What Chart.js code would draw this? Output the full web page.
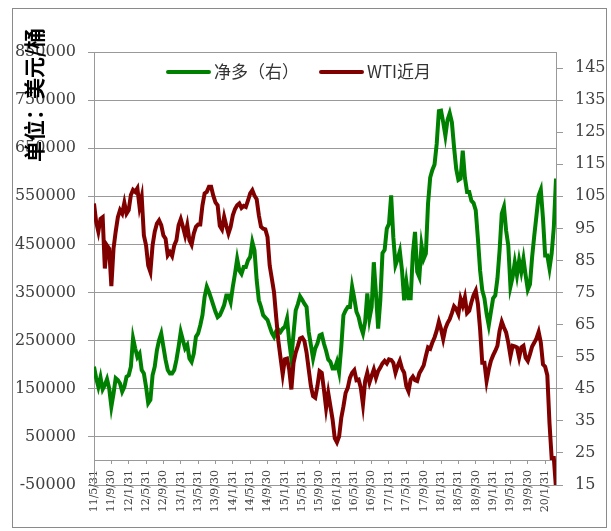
<!DOCTYPE html>
<html>
<head>
<meta charset="utf-8">
<title>净多 vs WTI近月</title>
<script src="https://cdn.jsdelivr.net/npm/chart.js@4.4.1/dist/chart.umd.min.js"></script>
<style>
    html, body { margin: 0; padding: 0; background: #fff; }
    canvas { display: block; }
</style>
</head>
<body>
<canvas id="oilChart" width="611" height="531"></canvas>
<script>
// Half-month steps, starting 2011-05-31
const STEP_MONTHS = 0.5;

// x-axis labels, one every 4 months
const dateLabels = [
    '11/5/31', '11/9/30',
    '12/1/31', '12/5/31', '12/9/30',
    '13/1/31', '13/5/31', '13/9/30',
    '14/1/31', '14/5/31', '14/9/30',
    '15/1/31', '15/5/31', '15/9/30',
    '16/1/31', '16/5/31', '16/9/30',
    '17/1/31', '17/5/31', '17/9/30',
    '18/1/31', '18/5/31', '18/9/30',
    '19/1/31', '19/5/31', '19/9/30',
    '20/1/31'
];

// Net long position (left axis)
const netLong = [
    196000, 172000, 154000, 174000, 149000, 158000, 170000, 151000, 113000, 140000,
    172000, 168000, 161000, 144000, 154000, 175000, 178000, 196000, 255000, 234000,
    216000, 223000, 189000, 182000, 154000, 120000, 127000, 178000, 196000, 230000,
    251000, 265000, 237000, 210000, 189000, 182000,
    182000, 189000, 210000, 237000, 268000, 251000, 234000, 241000, 213000, 206000,
    223000, 258000, 265000, 282000, 303000, 341000, 362000, 351000, 338000, 324000,
    310000, 299000, 303000, 313000, 324000, 344000, 344000, 330000, 362000, 389000,
    420000, 396000, 389000, 403000, 403000, 417000,
    424000, 455000, 438000, 376000, 334000, 320000, 303000, 298000, 293000, 279000,
    266000, 258000, 270000, 273000, 268000, 275000, 279000, 296000, 248000, 213000,
    265000, 313000, 326000, 342000, 335000, 327000, 320000, 268000, 241000, 213000,
    234000, 244000, 261000, 263000, 244000, 229000,
    211000, 206000, 192000, 192000, 206000, 185000, 237000, 303000, 313000, 320000,
    320000, 362000, 338000, 310000, 299000, 279000, 265000, 289000, 348000, 296000,
    320000, 413000, 348000, 275000, 334000, 432000, 439000, 483000, 493000, 552000,
    465000, 407000, 420000, 436000, 396000, 334000,
    372000, 338000, 338000, 431000, 476000, 393000, 382000, 448000, 420000, 431000,
    535000, 589000, 605000, 616000, 659000, 727000, 728000, 704000, 676000, 709000,
    723000, 704000, 652000, 607000, 584000, 587000, 645000, 589000, 559000, 559000,
    541000, 536000, 521000, 462000, 396000, 355000,
    338000, 306000, 282000, 310000, 338000, 344000, 379000, 438000, 514000, 528000,
    479000, 448000, 362000, 382000, 413000, 386000, 417000, 393000, 420000, 386000,
    356000, 367000, 424000, 469000, 510000, 552000, 564000, 504000, 427000, 427000,
    400000, 431000, 486000, 587000
];

// WTI front-month price (right axis)
const wtiFront = [
    102.8, 97, 94, 98, 98.5, 82.5, 89.7, 88.7, 77, 88.7,
    94, 98.5, 100.7, 99.6, 103, 99.6, 100.7, 105.4, 107, 106.4,
    107.5, 101.7, 104.8, 92.8, 89.7, 83.4, 81.4, 89.7, 94, 96.5,
    97.5, 96, 92.8, 91.8, 86.6, 87.6,
    86.4, 89.7, 91.3, 96, 97.9, 95.5, 92.8, 96, 91.3, 89.9,
    93.4, 95.5, 96.2, 96.2, 102.2, 105.9, 106.4, 108, 108, 105.2,
    103.1, 102.2, 95.8, 94.7, 98.6, 95.8, 93.4, 95.5, 99.1, 101,
    102.2, 102.8, 101.4, 102, 101.7, 103.7,
    105.9, 106.9, 105.2, 104.1, 99.1, 95.5, 94.9, 94.7, 92.3, 83.4,
    79.3, 75.1, 67.3, 59.9, 54.7, 49.5, 54.2, 54.4, 51, 44.8,
    53.1, 56.3, 58.4, 60.7, 61, 59.9, 56.3, 51, 45.8, 42.7,
    42.2, 45.8, 50.5, 50, 44.8, 39,
    43.7, 39.5, 35.4, 29.6, 28.3, 30.1, 35.9, 39.5, 43.7, 45.3,
    48.4, 50, 50.8, 47.7, 47.9, 45.3, 40.1, 47.4, 50, 46.9,
    49, 51, 48.4, 50.5, 51.6, 52.9, 53.7, 52.9, 54.2, 54,
    53.1, 50, 52.1, 53.7, 51.3, 50,
    45.8, 44.2, 47.9, 48.8, 47.7, 47.4, 49.8, 51, 52.3, 55.2,
    57.9, 57.5, 59.4, 61, 63.1, 65.9, 63.6, 60.5, 63.8, 65.5,
    66.7, 68.6, 70.7, 69.9, 68.3, 73, 70.9, 73.5, 68.6, 69.3,
    72, 74.2, 75.6, 71.4, 63.6, 53.1,
    53.1, 47.4, 51, 53.7, 55.4, 56.8, 58.4, 63.1, 65.9, 64.1,
    62.6, 59.4, 55.2, 58.4, 58.2, 57.9, 54.7, 57.9, 58.4, 54.7,
    53.7, 55.8, 58.2, 59.4, 60.7, 62.7, 59.4, 52.6, 51.9, 49.2,
    34.3, 23.4, 23.4, 14
];

const leftTicks = [-50000, 50000, 150000, 250000, 350000, 450000, 550000, 650000, 750000, 850000];
const rightTicks = [15, 25, 35, 45, 55, 65, 75, 85, 95, 105, 115, 125, 135, 145];

const GREEN = '#008000';
const MAROON = '#800000';
const GRID = '#999999';
const TICK_TEXT = '#404040';

function toPoints(values) {
    return values.map((v, i) => ({ x: i * STEP_MONTHS, y: v }));
}

// White background and thin outer frame
const framePlugin = {
    id: 'frame',
    beforeDraw(chart) {
        const ctx = chart.ctx;
        ctx.save();
        ctx.fillStyle = '#ffffff';
        ctx.fillRect(0, 0, chart.width, chart.height);
        ctx.strokeStyle = '#8a8a8a';
        ctx.lineWidth = 1;
        ctx.strokeRect(12.5, 8.5, 594, 519);
        ctx.restore();
    }
};

// Legend row and the left axis unit title
const overlayPlugin = {
    id: 'overlay',
    afterDraw(chart) {
        const ctx = chart.ctx;
        ctx.save();

        ctx.lineWidth = 4;
        ctx.lineCap = 'round';
        ctx.font = '17px "Noto Sans CJK SC", sans-serif';
        ctx.textBaseline = 'middle';
        ctx.fillStyle = '#333';

        ctx.strokeStyle = GREEN;
        ctx.beginPath();
        ctx.moveTo(168, 72);
        ctx.lineTo(209, 72);
        ctx.stroke();
        ctx.fillText('净多（右）', 214, 72);

        ctx.strokeStyle = MAROON;
        ctx.beginPath();
        ctx.moveTo(321, 72);
        ctx.lineTo(362, 72);
        ctx.stroke();
        ctx.fillText('WTI近月', 367, 72);

        ctx.translate(34, 95);
        ctx.rotate(-Math.PI / 2);
        ctx.textAlign = 'center';
        ctx.fillStyle = '#000';
        ctx.font = 'bold 21px "Noto Sans CJK SC", sans-serif';
        ctx.fillText('单位：美元/桶', 0, 0);

        ctx.restore();
    }
};

const ctx = document.getElementById('oilChart').getContext('2d');

new Chart(ctx, {
    type: 'line',
    data: {
        datasets: [
            {
                label: '净多（右）',
                data: toPoints(netLong),
                yAxisID: 'y',
                borderColor: GREEN,
                borderWidth: 4,
                pointRadius: 0,
                tension: 0,
                order: 1
            },
            {
                label: 'WTI近月',
                data: toPoints(wtiFront),
                yAxisID: 'y1',
                borderColor: MAROON,
                borderWidth: 4,
                pointRadius: 0,
                tension: 0,
                order: 0
            }
        ]
    },
    options: {
        responsive: false,
        animation: false,
        layout: {
            padding: { top: 52, left: 0, right: 0, bottom: 46 }
        },
        plugins: {
            legend: { display: false },
            tooltip: { enabled: false }
        },
        scales: {
            x: {
                type: 'linear',
                position: { y: 0 },
                min: 0,
                max: 106.5,
                afterBuildTicks(axis) {
                    axis.ticks = dateLabels.map((_, i) => ({ value: i * 4 }));
                },
                grid: {
                    drawOnChartArea: false,
                    drawTicks: true,
                    tickLength: 3,
                    color: GRID
                },
                border: { display: true, color: GRID, width: 1 },
                ticks: {
                    autoSkip: false,
                    maxRotation: 90,
                    minRotation: 90,
                    padding: 6,
                    color: TICK_TEXT,
                    font: { family: 'DejaVu Serif', size: 11 },
                    callback: value => dateLabels[Math.round(value / 4)]
                }
            },
            y: {
                position: 'left',
                min: -50000,
                max: 850000,
                afterBuildTicks(axis) {
                    axis.ticks = leftTicks.map(v => ({ value: v }));
                },
                afterFit(axis) {
                    axis.width = 94;
                },
                grid: {
                    color: GRID,
                    lineWidth: 1,
                    drawTicks: true,
                    tickLength: 6
                },
                border: { display: true, color: GRID, width: 1 },
                ticks: {
                    padding: 12,
                    color: TICK_TEXT,
                    font: { family: 'DejaVu Serif', size: 16 },
                    callback: value => String(value)
                }
            },
            y1: {
                position: 'right',
                min: 15,
                max: 150,
                afterBuildTicks(axis) {
                    axis.ticks = rightTicks.map(v => ({ value: v }));
                },
                afterFit(axis) {
                    axis.width = 55;
                },
                grid: {
                    drawOnChartArea: false,
                    drawTicks: true,
                    tickLength: 7,
                    color: GRID
                },
                border: { display: true, color: GRID, width: 1 },
                ticks: {
                    padding: 12,
                    color: TICK_TEXT,
                    font: { family: 'DejaVu Serif', size: 16 },
                    callback: value => String(value)
                }
            }
        }
    },
    plugins: [framePlugin, overlayPlugin]
});
</script>
</body>
</html>
